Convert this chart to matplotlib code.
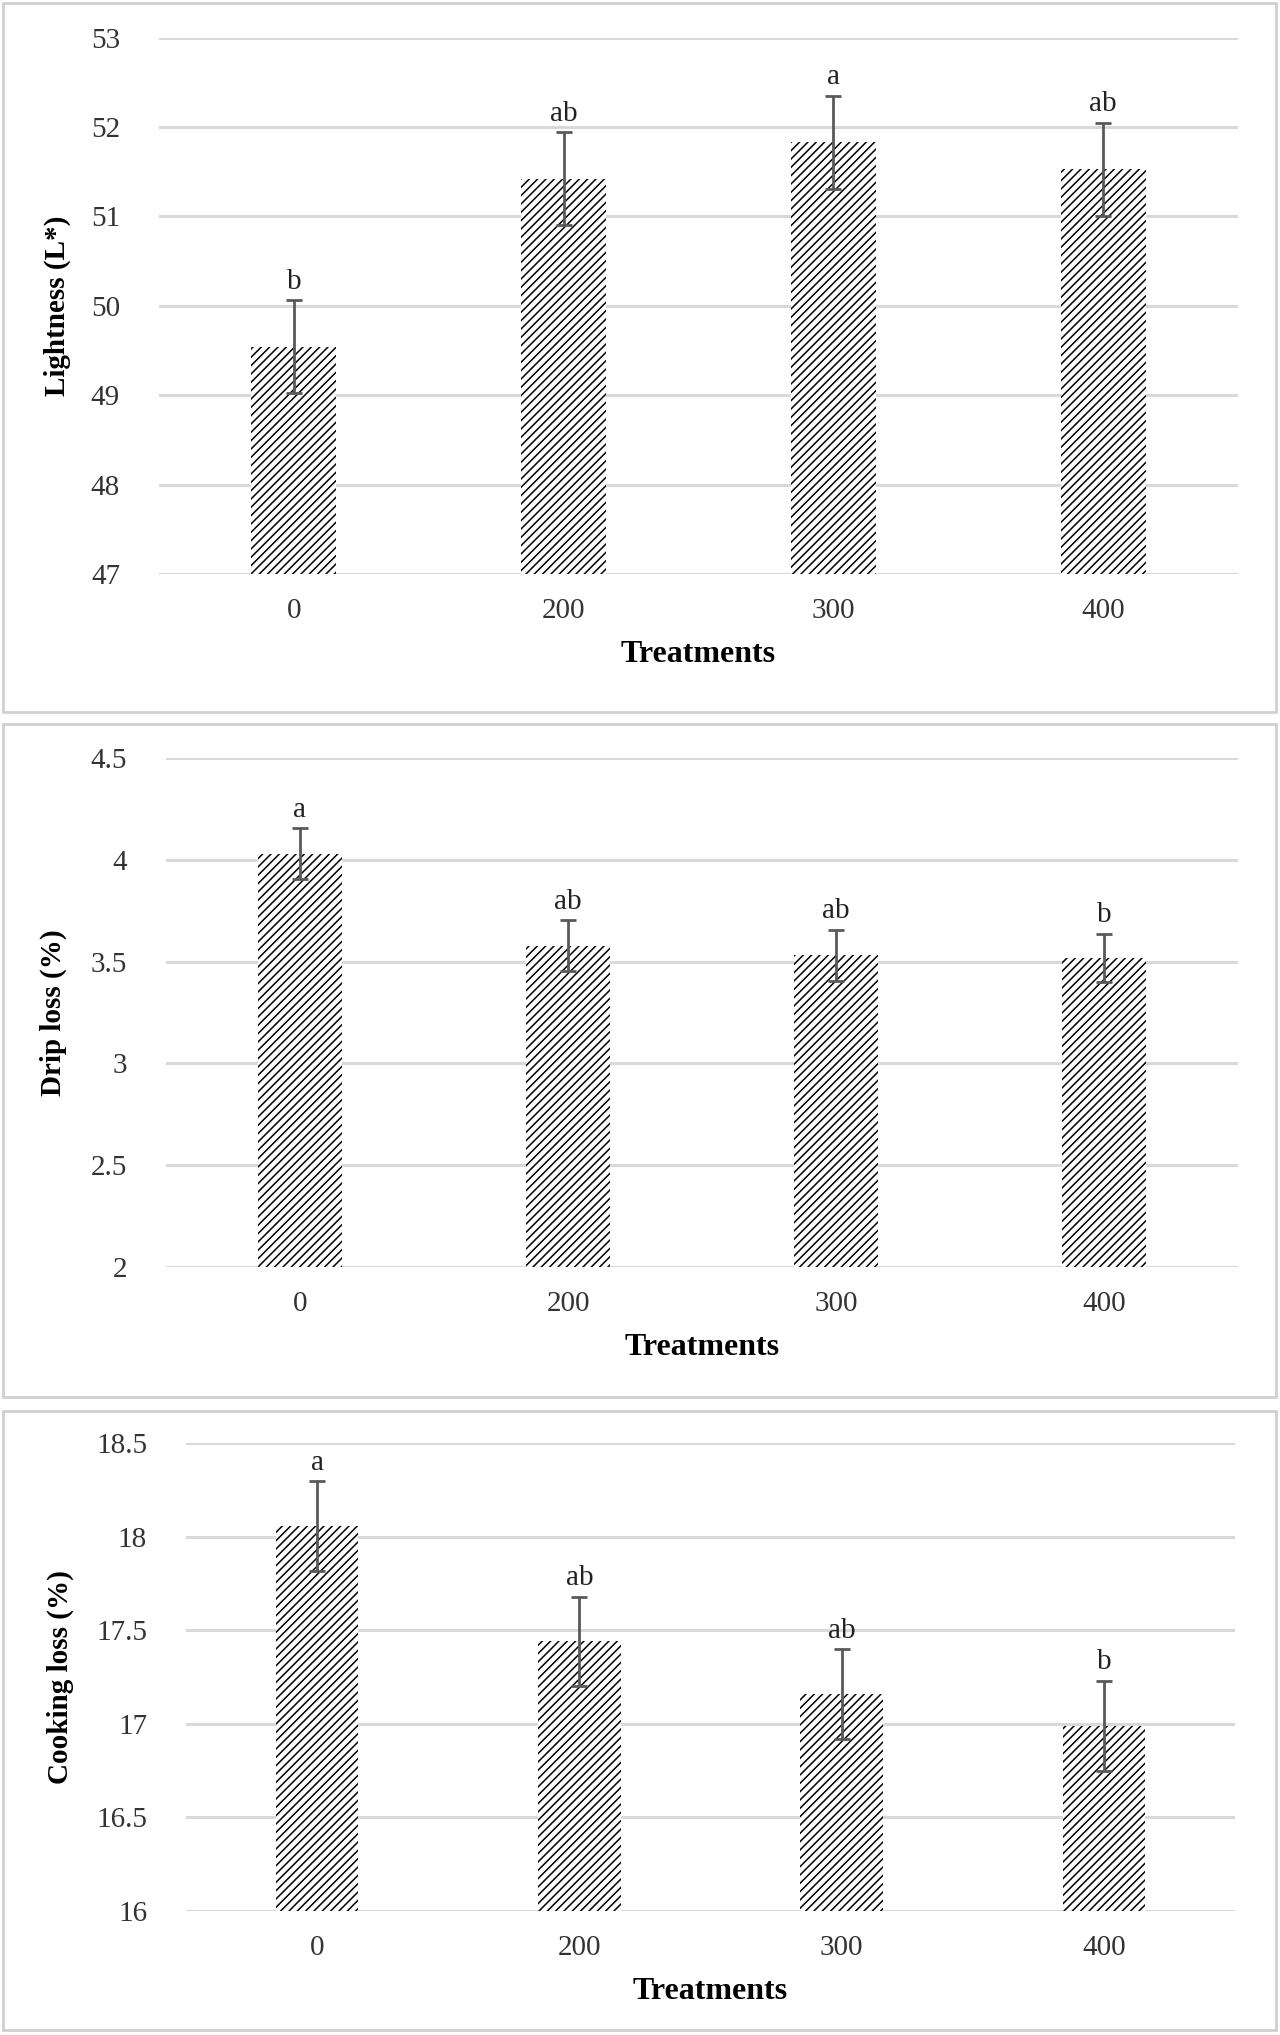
import matplotlib
matplotlib.use('Agg')
import matplotlib.pyplot as plt
from matplotlib.patches import Rectangle

plt.rcParams['font.family'] = ['Liberation Serif', 'DejaVu Serif']
plt.rcParams['hatch.linewidth'] = 1.1
plt.rcParams['hatch.color'] = 'black'

treatments = ['0', '200', '300', '400']

lightness = [49.54, 51.42, 51.83, 51.53]
lightness_err = [0.52, 0.52, 0.52, 0.52]
lightness_letters = ['b', 'ab', 'a', 'ab']

drip = [4.03, 3.577, 3.53, 3.518]
drip_err = [0.125, 0.125, 0.125, 0.12]
drip_letters = ['a', 'ab', 'ab', 'b']

cooking = [18.055, 17.44, 17.157, 16.99]
cooking_err = [0.24, 0.24, 0.24, 0.24]
cooking_letters = ['a', 'ab', 'ab', 'b']

W, H = 1280, 2035
fig = plt.figure(figsize=(W / 100, H / 100), dpi=100)

# panel frames (pixels: x0, y0, x1, y1)
frames = [(3, 3, 1276, 712), (3, 724, 1276, 1397), (3, 1411, 1276, 2030)]
for x0, y0, x1, y1 in frames:
    fig.patches.append(Rectangle((x0 / W, 1 - y1 / H), (x1 - x0) / W, (y1 - y0) / H,
                                 transform=fig.transFigure, fill=False,
                                 edgecolor='#d0d0d0', linewidth=2))

panels = [
    (lightness, lightness_err, lightness_letters, 'Lightness (L*)', (47, 53), [47, 48, 49, 50, 51, 52, 53],
     (159, 37.6, 1238, 574)),
    (drip, drip_err, drip_letters, 'Drip loss (%)', (2, 4.5), [2, 2.5, 3, 3.5, 4, 4.5],
     (166, 758, 1238, 1267)),
    (cooking, cooking_err, cooking_letters, 'Cooking loss (%)', (16, 18.5), [16, 16.5, 17, 17.5, 18, 18.5],
     (186, 1443, 1235, 1911)),
]

ylabel_x = [71, 67, 74]

for i, (vals, errs, letters, ylab, ylim, yticks, box) in enumerate(panels):
    l, t, r, b = box
    ax = fig.add_axes([l / W, 1 - b / H, (r - l) / W, (b - t) / H])
    x = range(len(treatments))
    ax.bar(x, [v - ylim[0] for v in vals], bottom=ylim[0], width=0.315, color='white',
           edgecolor='black', linewidth=0, hatch='////', zorder=2)
    ax.errorbar(x, vals, yerr=errs, fmt='none', ecolor='#595959', elinewidth=2,
                capsize=6, capthick=2, zorder=3)
    for xi, v, e, s in zip(x, vals, errs, letters):
        ax.annotate(s, (xi, v + e), xytext=(0, 4), textcoords='offset points',
                    ha='center', va='bottom', fontsize=21, color='#222222')
    ax.set_xlim(-0.5, len(treatments) - 0.5)
    ax.set_ylim(*ylim)
    ax.set_yticks(yticks)
    ax.set_yticklabels([f'{v:g}' for v in yticks])
    ax.set_xticks(list(x))
    ax.set_xticklabels(treatments)
    ax.tick_params(length=0, labelsize=21, labelcolor='#333333', pad=17)
    ax.tick_params(axis='y', pad=28)
    ax.grid(axis='y', color='#d9d9d9', linewidth=2.2, zorder=0)
    ax.set_axisbelow(True)
    for sp in ax.spines.values():
        sp.set_visible(False)
    ax.set_ylabel(ylab, fontsize=21, fontweight='bold')
    ax.yaxis.set_label_coords((ylabel_x[i] - l) / (r - l), 0.5)
    ax.set_xlabel('Treatments', fontsize=23, fontweight='bold', labelpad=12)

fig.savefig('out.png', dpi=100, facecolor='white')
